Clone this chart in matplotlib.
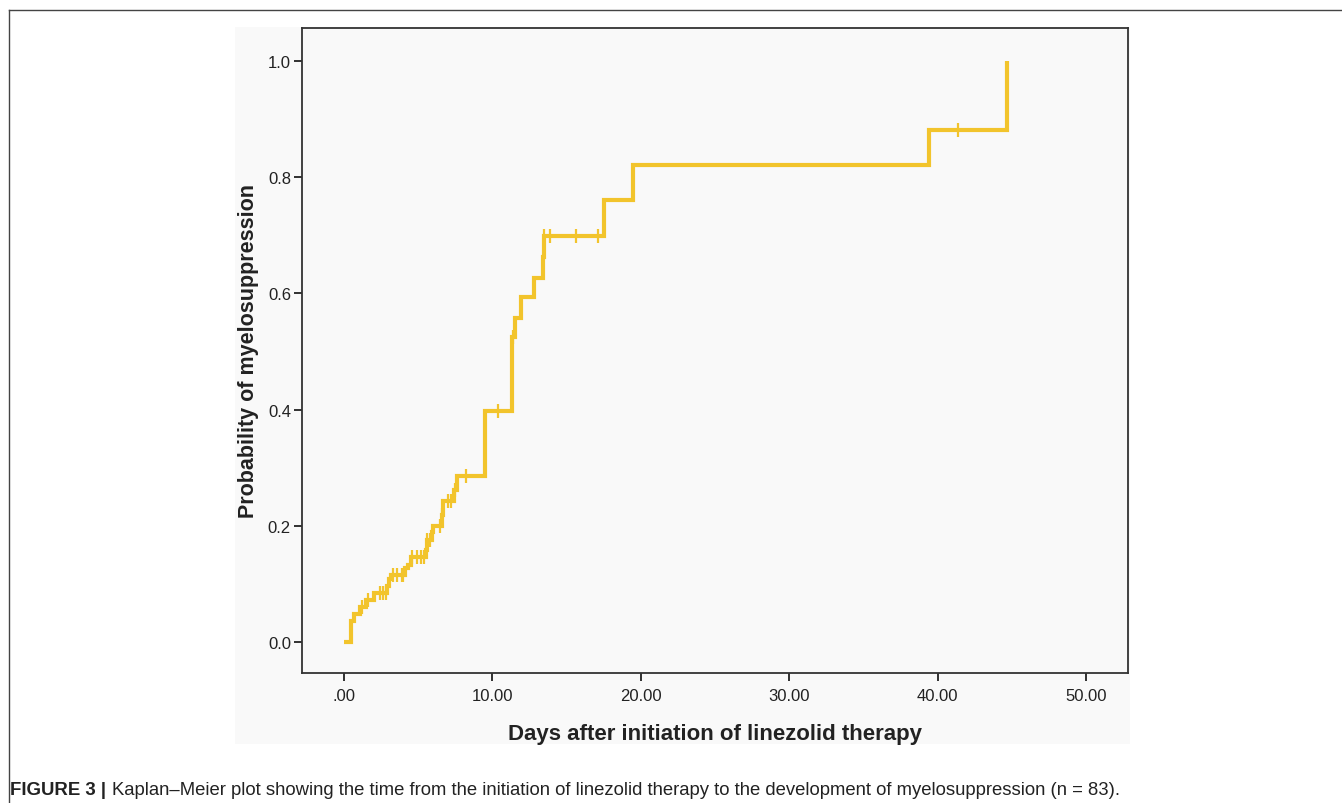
import numpy as np
import matplotlib
matplotlib.use("Agg")
import matplotlib.pyplot as plt
from matplotlib.patches import Rectangle
from matplotlib.lines import Line2D

plt.rcParams['font.family'] = ['Liberation Sans', 'DejaVu Sans']

# step function of cumulative probability (value holds after each time)
event_t = [0.0, 0.5, 0.7, 1.1, 1.5, 2.0, 2.9, 3.0, 3.2, 4.1, 4.3, 4.5, 5.5, 5.6,
           5.9, 6.0, 6.6, 6.7, 7.4, 7.6, 9.5, 11.3, 11.5, 11.9, 12.8, 13.4, 13.5,
           17.5, 19.5, 39.4, 44.7]
event_p = [0.0, 0.036, 0.048, 0.060, 0.072, 0.084, 0.096, 0.108, 0.115, 0.127,
           0.133, 0.146, 0.158, 0.175, 0.190, 0.200, 0.218, 0.243, 0.262, 0.286,
           0.397, 0.525, 0.558, 0.594, 0.627, 0.662, 0.699, 0.760, 0.821, 0.881, 1.0]

# censored observations
cens_t = [1.2, 1.6, 2.4, 2.6, 2.8, 3.3, 3.6, 3.9, 4.0, 4.6, 4.9, 5.2, 5.4, 5.6, 5.8,
          6.5, 6.6, 7.0, 7.2, 7.5, 8.2, 10.4, 11.4, 13.5, 13.9, 15.6, 17.1, 41.4]

line_col = '#F2C42C'

fig = plt.figure(figsize=(13.42, 8.04), dpi=100)
W, H = 1342, 804

# outer frame lines and gray panel
fig.add_artist(Line2D([9 / W, 1], [1 - 11 / H, 1 - 11 / H], color='#444444', lw=1.0))
fig.add_artist(Line2D([9 / W, 9 / W], [0, 1 - 11 / H], color='#444444', lw=1.0))
fig.add_artist(Rectangle((235 / W, 1 - 745 / H), (1130 - 235) / W, (745 - 28) / H,
                         facecolor='#f9f9f9', edgecolor='none', zorder=0))

ax = fig.add_axes([302 / W, 1 - 674 / H, (1128 - 302) / W, (674 - 29) / H])
ax.set_facecolor('#f9f9f9')

ax.step(event_t, event_p, where='post', color=line_col, lw=3.0,
        solid_joinstyle='miter', solid_capstyle='butt', zorder=3)
cens_p = [event_p[np.searchsorted(event_t, c, side='right') - 1] for c in cens_t]
ax.plot(cens_t, cens_p, linestyle='none', marker='|', markersize=10,
        markeredgewidth=1.6, color=line_col, zorder=3)

ax.set_xlim(-2.83, 52.83)
ax.set_ylim(-0.0534, 1.0568)
ax.set_xticks([0, 10, 20, 30, 40, 50])
ax.set_xticklabels(['.00', '10.00', '20.00', '30.00', '40.00', '50.00'])
ax.set_yticks([0, 0.2, 0.4, 0.6, 0.8, 1.0])
ax.set_yticklabels(['0.0', '0.2', '0.4', '0.6', '0.8', '1.0'])
ax.tick_params(direction='out', length=6, width=1.3, colors='#222222', labelsize=12, pad=2)
ax.tick_params(axis='x', pad=5)
for s in ax.spines.values():
    s.set_color('#333333')
    s.set_linewidth(1.3)

ax.set_xlabel('Days after initiation of linezolid therapy', fontsize=16,
              fontweight='bold', color='#222222', labelpad=14)
ax.set_ylabel('Probability of myelosuppression', fontsize=15.5,
              fontweight='bold', color='#222222', labelpad=6)

# caption
t1 = fig.text(10 / W, 1 - 791 / H, 'FIGURE 3 |', fontsize=13.4, fontweight='bold',
              color='#222222', va='center', ha='left')
fig.canvas.draw()
bb = t1.get_window_extent()
fig.text((bb.x1 + 6) / W, 1 - 791 / H,
         'Kaplan\u2013Meier plot showing the time from the initiation of linezolid therapy '
         'to the development of myelosuppression (n = 83).',
         fontsize=13.3, color='#222222', va='center', ha='left')

fig.savefig('out.png', dpi=100)
